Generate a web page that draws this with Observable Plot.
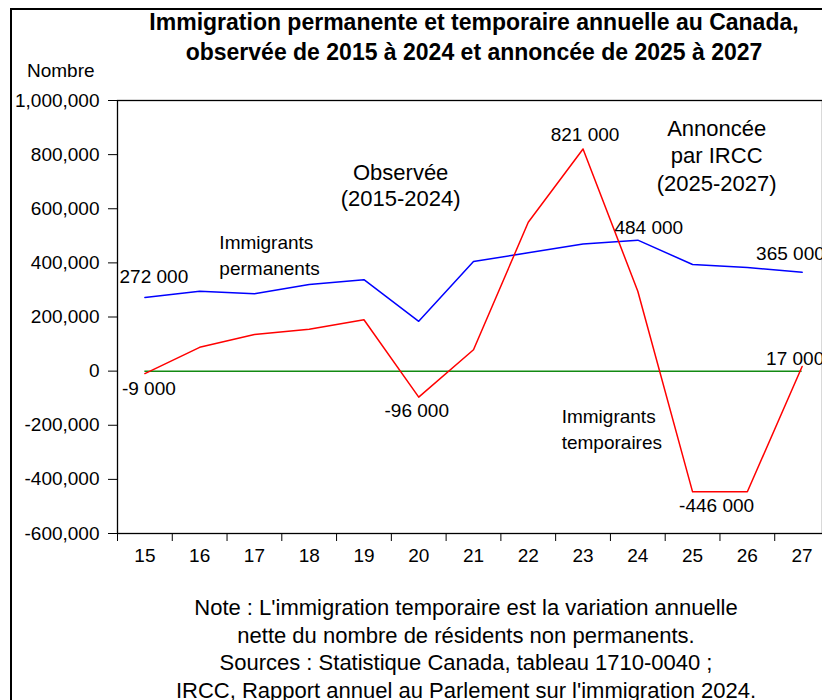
<!DOCTYPE html>
<html>
<head>
<meta charset="utf-8">
<script src="https://cdn.jsdelivr.net/npm/d3@7"></script>
<script src="https://cdn.jsdelivr.net/npm/@observablehq/plot@0.6"></script>
<style>
  html, body { margin: 0; padding: 0; background: #fff; overflow: hidden; }
  #wrap { position: relative; width: 822px; height: 700px; overflow: hidden; background: #fff;
          font-family: "Liberation Sans", Arial, sans-serif; color: #000; }
  #outer { position: absolute; left: 10px; top: 8px; width: 1000px; height: 1000px;
           border-left: 2px solid #000; border-top: 2px solid #000; }
  #title { position: absolute; left: 74px; width: 800px; top: 7px; text-align: center;
           font-weight: bold; font-size: 23px; line-height: 30px; }
  #ylab { position: absolute; left: 27px; top: 59px; font-size: 19px; line-height: 24px; }
  #chart { position: absolute; left: 0; top: 60px; }
  #note { position: absolute; left: 66px; width: 800px; top: 594px; text-align: center;
          font-size: 22px; line-height: 27.5px; }
</style>
</head>
<body>
<div id="wrap">
  <div id="outer"></div>
  <div id="title">Immigration permanente et temporaire annuelle au Canada,<br>observée de 2015 à 2024 et annoncée de 2025 à 2027</div>
  <div id="ylab">Nombre</div>
  <div id="chart"></div>
  <div id="note">Note : L'immigration temporaire est la variation annuelle<br>nette du nombre de résidents non permanents.<br>Sources : Statistique Canada, tableau 1710-0040 ;<br>IRCC, Rapport annuel au Parlement sur l'immigration 2024.</div>
</div>
<script>
// ---- data ----
const years = [2015, 2016, 2017, 2018, 2019, 2020, 2021, 2022, 2023, 2024, 2025, 2026, 2027];
const permanents = [272000, 295000, 286000, 320000, 338000, 184000, 405000, 437000, 470000, 484000, 394000, 383000, 365000];
const temporaires = [-9000, 88000, 135000, 155000, 190000, -96000, 79000, 550000, 821000, 295000, -446000, -446000, 17000];
const yTicks = [-600000, -400000, -200000, 0, 200000, 400000, 600000, 800000, 1000000];
const xBoundaries = [2014.5, 2015.5, 2016.5, 2017.5, 2018.5, 2019.5, 2020.5, 2021.5, 2022.5, 2023.5, 2024.5, 2025.5, 2026.5];

// ---- derived tables ----
const permData = years.map((y, i) => ({year: y, value: permanents[i]}));
const tempData = years.map((y, i) => ({year: y, value: temporaires[i]}));
const fmtComma = v => d3.format(",")(v).replace(/\u2212/g, "-");
const fmtSp = v => d3.format(",")(v).replace(/,/g, " ").replace(/\u2212/g, "-");
const pt = (arr, y) => [{year: y, value: arr[years.indexOf(y)], text: fmtSp(arr[years.indexOf(y)])}];

const font = "Liberation Sans, Arial, sans-serif";
const txt = (data, opts) => Plot.text(data, Object.assign({x: "year", y: "value", text: "text", fontSize: 19, fill: "black"}, opts));

const chart = Plot.plot({
  width: 822,
  height: 520,
  marginTop: 40,
  marginBottom: 47,
  marginLeft: 117,
  marginRight: 0,
  style: {fontFamily: font, fontSize: "19px", background: "transparent", overflow: "visible"},
  x: {type: "linear", domain: [2014.5, 2027.5], range: [117, 829]},
  y: {domain: [-600000, 1000000]},
  marks: [
    Plot.axisY({ticks: yTicks, tickFormat: fmtComma, tickSize: 9, tickPadding: 9, fontSize: 19, label: null, stroke: "black", fill: "black"}),
    Plot.axisX({ticks: years, tickFormat: d => String(d).slice(2), tickSize: 0, tickPadding: 15, fontSize: 19, label: null, fill: "black"}),
    Plot.axisX({ticks: xBoundaries, tickFormat: () => "", tickSize: 8, label: null, stroke: "black"}),
    Plot.ruleY([0], {x1: 2015, x2: 2027, stroke: "#138a13", strokeWidth: 1.5}),
    Plot.lineY(permData, {x: "year", y: "value", stroke: "#0000ff", strokeWidth: 1.5}),
    Plot.lineY(tempData, {x: "year", y: "value", stroke: "#ff0000", strokeWidth: 1.5}),
    Plot.frame({stroke: "black", strokeWidth: 1.3}),
    // value labels
    txt(pt(permanents, 2015), {dx: 9, dy: -21}),
    txt(pt(temporaires, 2015), {dx: 4, dy: 15}),
    txt(pt(temporaires, 2020), {dx: -2, dy: 14}),
    txt(pt(temporaires, 2023), {dx: 2, dy: -14}),
    txt(pt(permanents, 2024), {dx: 11, dy: -12}),
    txt(pt(temporaires, 2025), {dx: 24, dy: 14}),
    txt(pt(permanents, 2027), {dx: -46, dy: -18, textAnchor: "start"}),
    txt(pt(temporaires, 2027), {dx: -36, dy: -8, textAnchor: "start"}),
    // annotations
    Plot.text([{year: 2016.36, value: 433000, text: "Immigrants\npermanents"}], {x: "year", y: "value", text: "text", textAnchor: "start", fontSize: 19, lineHeight: 1.38, fill: "black"}),
    Plot.text([{year: 2019.67, value: 689600, text: "Observée\n(2015-2024)"}], {x: "year", y: "value", text: "text", fontSize: 22, lineHeight: 1.21, fill: "black"}),
    Plot.text([{year: 2025.44, value: 800000, text: "Annoncée\npar IRCC\n(2025-2027)"}], {x: "year", y: "value", text: "text", fontSize: 22, lineHeight: 1.25, fill: "black"}),
    Plot.text([{year: 2022.61, value: -208300, text: "Immigrants\ntemporaires"}], {x: "year", y: "value", text: "text", textAnchor: "start", fontSize: 19, lineHeight: 1.35, fill: "black"})
  ]
});
document.getElementById("chart").appendChild(chart);
</script>
</body>
</html>
